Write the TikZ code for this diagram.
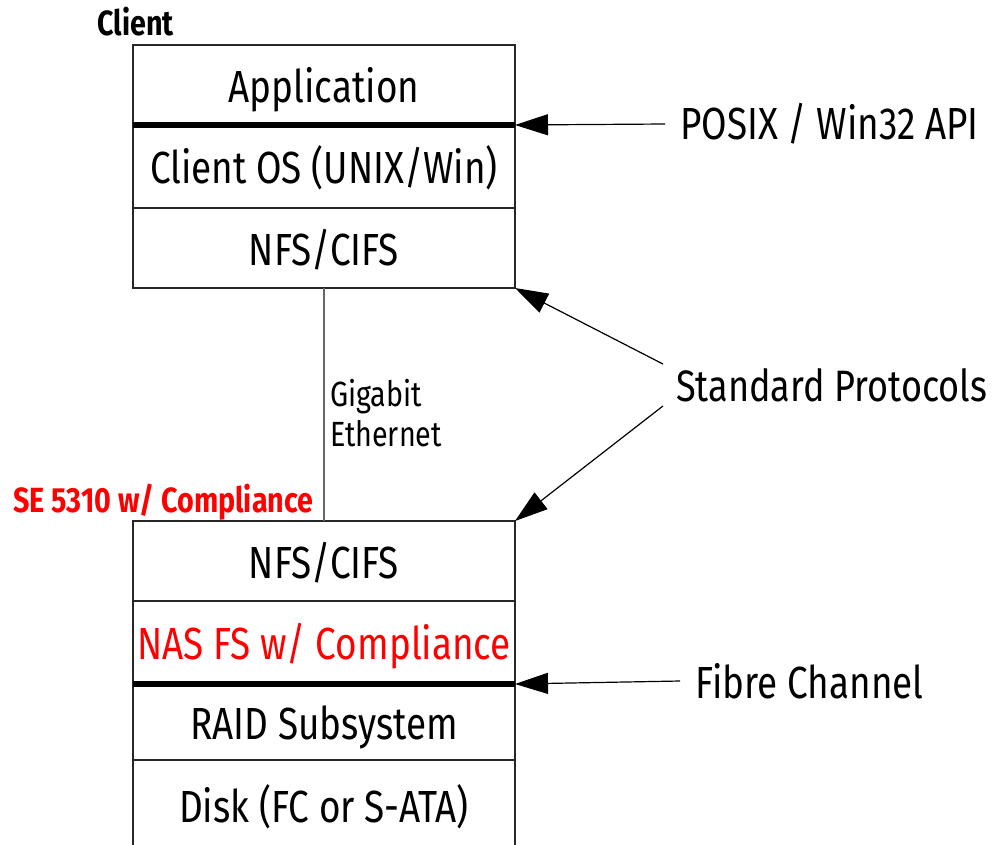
\documentclass[tikz,border=0pt]{standalone}
\usepackage{fontspec}
\setmainfont{Fira Sans}[FakeStretch=0.82]
\usetikzlibrary{arrows.meta}
\usetikzlibrary{positioning}

\begin{document}
\begin{tikzpicture}[x=1pt,y=-1pt,
    layer/.style={draw=black!85,line width=1.5pt,minimum width=382pt,inner sep=0pt,outer sep=0pt,
        text height=36pt,text depth=2pt,font=\fontsize{45}{50}\selectfont},
    note/.style={anchor=west,inner xsep=15pt,inner ysep=4pt,font=\fontsize{45}{48}\selectfont},
    tag/.style={anchor=base west,font=\bfseries\fontsize{35}{38}\selectfont},
    ptr/.style={-{Triangle[length=33pt,width=21pt]},line width=1.2pt},
    sep/.style={line width=6pt}]
    \useasboundingbox (0,0) rectangle (992,844);
    % client stack
    \node[layer,minimum height=80pt,anchor=north west] (appl) at (133,45) {Application};
    \node[layer,minimum height=83pt,below=0pt of appl] (clos) {Client OS (UNIX/Win)};
    \node[layer,minimum height=80pt,below=0pt of clos] (nfsc) {NFS/CIFS};
    \draw[sep] (appl.south west) -- (appl.south east);
    \node[tag] (clnt) at (94,35) {Client};
    % server stack (runs off the bottom edge)
    \node[layer,minimum height=80pt,anchor=north west] (nfss) at (133,521) {NFS/CIFS};
    \node[layer,minimum height=83pt,below=0pt of nfss,text=red] (nasfs) {NAS FS w/ Compliance};
    \node[layer,minimum height=76pt,below=0pt of nasfs] (raid) {RAID Subsystem};
    \node[layer,minimum height=88pt,text depth=0pt,below=0pt of raid] (disk) {Disk (FC or S-ATA)};
    \draw[sep] (nasfs.south west) -- (nasfs.south east);
    \node[tag,text=red] (se) at (10,512) {SE 5310 w/ Compliance};
    % link
    \draw[black!60,line width=1.5pt] (nfsc) -- (nfss);
    \node[anchor=west,align=left,inner sep=0pt,font=\fontsize{35}{40}\selectfont] (gige) at (330,413) {Gigabit\\Ethernet};
    % callouts
    \node[note] (posix) at (665,124) {POSIX / Win32 API};
    \node[note,inner xsep=13pt,font=\fontsize{44}{48}\selectfont] (prot) at (663,385) {Standard Protocols};
    \node[note] (fc) at (680,681) {Fibre Channel};
    \draw[ptr] (posix.west) -- (appl.south east);
    \draw[ptr] (prot.north west) -- (nfsc.south east);
    \draw[ptr] (prot.south west) -- (nfss.north east);
    \draw[ptr] (fc.west) -- (nasfs.south east);
\end{tikzpicture}
\end{document}
